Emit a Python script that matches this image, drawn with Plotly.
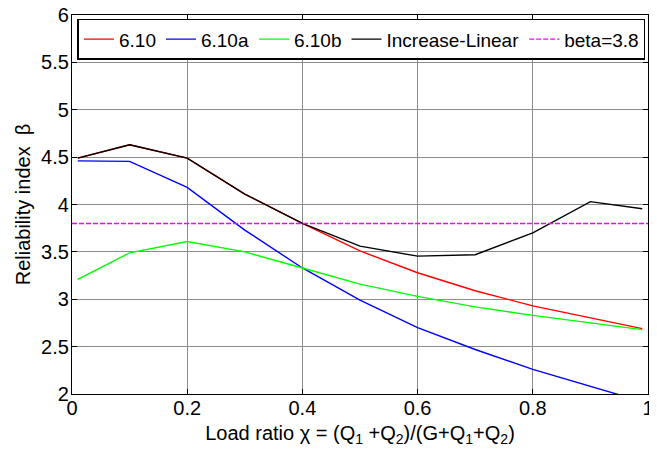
import plotly.graph_objects as go

x = [0.01, 0.1, 0.2, 0.3, 0.4, 0.5, 0.6, 0.7, 0.8, 0.9, 0.99]
beta_610 = [4.49, 4.63, 4.49, 4.11, 3.80, 3.51, 3.28, 3.09, 2.93, 2.80, 2.69]
beta_610a = [4.46, 4.455, 4.18, 3.73, 3.33, 2.99, 2.70, 2.47, 2.26, 2.08, 1.92]
beta_610b = [3.21, 3.49, 3.61, 3.50, 3.33, 3.16, 3.03, 2.92, 2.83, 2.75, 2.68]
beta_inc = [4.49, 4.63, 4.49, 4.11, 3.80, 3.56, 3.455, 3.47, 3.70, 4.03, 3.955]
beta_target = 3.8
x_ref = [0, 1]

FONT = "Liberation Sans, Arial, sans-serif"
FS = 20

fig = go.Figure()
fig.add_trace(go.Scatter(x=x, y=beta_610, mode="lines", name="6.10",
                         line=dict(color="#ff0000", width=1.4)))
fig.add_trace(go.Scatter(x=x, y=beta_610a, mode="lines", name="6.10a",
                         line=dict(color="#0000ff", width=1.4)))
fig.add_trace(go.Scatter(x=x, y=beta_610b, mode="lines", name="6.10b",
                         line=dict(color="#00ff00", width=1.4)))
fig.add_trace(go.Scatter(x=x, y=beta_inc, mode="lines", name="Increase-Linear",
                         line=dict(color="#000000", width=1.4)))
fig.add_trace(go.Scatter(x=x_ref, y=[beta_target, beta_target], mode="lines",
                         name="beta=3.8",
                         line=dict(color="#ff00ff", width=1.4, dash="5px,2px")))

axis_common = dict(
    showline=True, linecolor="black", linewidth=1.2, mirror="ticks",
    showgrid=True, gridcolor="#8c8c8c", gridwidth=1,
    ticks="inside", ticklen=5, tickcolor="black",
    tickfont=dict(family=FONT, size=FS, color="black"),
    zeroline=False, automargin=False, ticklabeloverflow="allow",
)

# page body has an 8px default margin, so the figure is sized 8px smaller
fig.update_layout(
    width=649, height=441,
    margin=dict(l=64, r=9, t=7, b=55),
    paper_bgcolor="white", plot_bgcolor="white",
    font=dict(family=FONT, size=FS, color="black"),
    showlegend=True,
    legend=dict(
        orientation="h", x=0.0095, y=0.99, xanchor="left", yanchor="top",
        bgcolor="white", bordercolor="black", borderwidth=1.5,
        font=dict(family=FONT, size=19, color="black"),
        itemwidth=30, tracegroupgap=0,
    ),
    xaxis=dict(range=[0, 1], tickvals=[0, 0.2, 0.4, 0.6, 0.8, 1],
               ticktext=["0", "0.2", "0.4", "0.6", "0.8", "1"],
               ticklabelstandoff=-4,
               title=dict(text="Load ratio χ = (Q<sub>1</sub> +Q<sub>2</sub>)/(G+Q<sub>1</sub>+Q<sub>2</sub>)",
                          font=dict(family=FONT, size=FS), standoff=7),
               **axis_common),
    yaxis=dict(range=[2, 6], tickvals=[2, 2.5, 3, 3.5, 4, 4.5, 5, 5.5, 6],
               ticktext=["2", "2.5", "3", "3.5", "4", "4.5", "5", "5.5", "6"],
               ticklabelstandoff=-2,
               title=dict(text="Reliability index  β",
                          font=dict(family=FONT, size=FS), standoff=5),
               **axis_common),
)

fig.write_html("out.html")
